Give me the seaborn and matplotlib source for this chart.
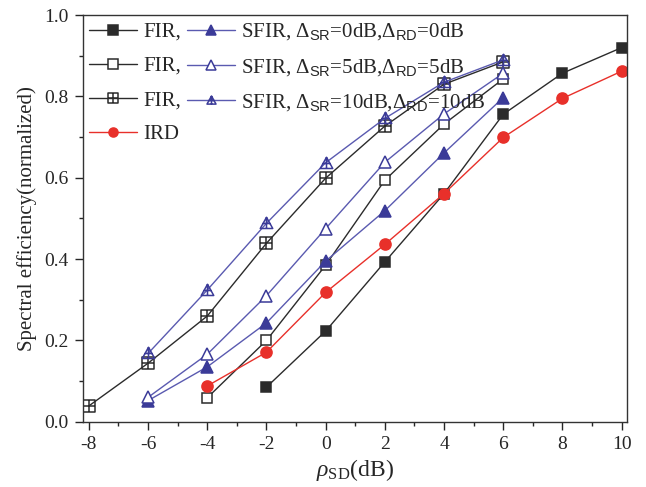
import numpy as np
import pandas as pd
import matplotlib
matplotlib.use("Agg")
import matplotlib.pyplot as plt
from matplotlib.path import Path
from matplotlib.ticker import MultipleLocator, FormatStrFormatter
import seaborn as sns

# values (rho_SD in dB -> normalized spectral efficiency)
x_fir0 = [-2, 0, 2, 4, 6, 8, 10]
y_fir0 = [0.085, 0.223, 0.393, 0.561, 0.756, 0.857, 0.920]

x_fir5 = [-4, -2, 0, 2, 4, 6]
y_fir5 = [0.059, 0.200, 0.385, 0.594, 0.732, 0.843]

x_fir10 = [-8, -6, -4, -2, 0, 2, 4, 6]
y_fir10 = [0.039, 0.144, 0.260, 0.439, 0.599, 0.727, 0.830, 0.885]

x_sfir0 = [-6, -4, -2, 0, 2, 4, 6]
y_sfir0 = [0.052, 0.135, 0.243, 0.395, 0.519, 0.661, 0.797]

x_sfir5 = [-6, -4, -2, 0, 2, 4, 6]
y_sfir5 = [0.060, 0.166, 0.310, 0.475, 0.638, 0.757, 0.857]

x_sfir10 = [-6, -4, -2, 0, 2, 4, 6]
y_sfir10 = [0.168, 0.324, 0.488, 0.637, 0.746, 0.835, 0.890]

x_ird = [-4, -2, 0, 2, 4, 6, 8, 10]
y_ird = [0.088, 0.171, 0.318, 0.436, 0.561, 0.699, 0.795, 0.862]


def square_plus():
    verts = [(-1, -1), (1, -1), (1, 1), (-1, 1), (-1, -1),
             (0, -1), (0, 1), (-1, 0), (1, 0)]
    codes = [Path.MOVETO, Path.LINETO, Path.LINETO, Path.LINETO, Path.CLOSEPOLY,
             Path.MOVETO, Path.LINETO, Path.MOVETO, Path.LINETO]
    return Path(verts, codes)


def triangle_plus():
    verts = [(-1, -0.8), (1, -0.8), (0, 1), (-1, -0.8),
             (0, -0.8), (0, 1), (-0.6, 0.0), (0.6, 0.0)]
    codes = [Path.MOVETO, Path.LINETO, Path.LINETO, Path.CLOSEPOLY,
             Path.MOVETO, Path.LINETO, Path.MOVETO, Path.LINETO]
    return Path(verts, codes)


sns.set_style("ticks")
plt.rcParams["font.family"] = ["Liberation Serif", "DejaVu Serif"]
plt.rcParams["mathtext.fontset"] = "custom"
plt.rcParams["mathtext.rm"] = "Liberation Serif"
plt.rcParams["mathtext.it"] = "Liberation Serif:italic"
plt.rcParams["mathtext.sf"] = "Liberation Sans"
plt.rcParams["axes.unicode_minus"] = False

black = "#2b2b2b"
blue = "#3b3b98"
red = "#e8302a"

fig = plt.figure(figsize=(6.46, 4.87), dpi=100)
ax = fig.add_axes([0.128, 0.134, 0.842, 0.835])

series = [
    (x_fir0, y_fir0, "FIR,", "s", black, black, 7),
    (x_fir5, y_fir5, "FIR,", "s", black, "white", 7),
    (x_fir10, y_fir10, "FIR,", square_plus(), black, "none", 8),
    (x_ird, y_ird, "IRD", "o", red, red, 8),
    (x_sfir0, y_sfir0, r"SFIR, $\Delta_{\mathsf{SR}}$=0dB,$\Delta_{\mathsf{RD}}$=0dB", "^", blue, blue, 8),
    (x_sfir5, y_sfir5, r"SFIR, $\Delta_{\mathsf{SR}}$=5dB,$\Delta_{\mathsf{RD}}$=5dB", "^", blue, "white", 8),
    (x_sfir10, y_sfir10, r"SFIR, $\Delta_{\mathsf{SR}}$=10dB,$\Delta_{\mathsf{RD}}$=10dB", triangle_plus(), blue, "none", 9),
]

for xs, ys, label, marker, col, face, ms in series:
    df = pd.DataFrame({"x": xs, "y": ys})
    line_col = "#5a5ab0" if col == blue else col
    sns.lineplot(data=df, x="x", y="y", ax=ax, color=line_col, lw=1.0,
                 marker=marker, markersize=ms, markerfacecolor=face,
                 markeredgecolor=col, markeredgewidth=1.1, label=label)

ax.set_xlim(-8.21, 10.17)
ax.set_ylim(0, 1.0)
ax.xaxis.set_major_locator(MultipleLocator(2))
ax.xaxis.set_minor_locator(MultipleLocator(1))
ax.yaxis.set_major_locator(MultipleLocator(0.2))
ax.yaxis.set_minor_locator(MultipleLocator(0.1))
ax.yaxis.set_major_formatter(FormatStrFormatter("%.1f"))
ax.tick_params(which="major", direction="out", length=6, width=1, labelsize=14, pad=4)
ax.tick_params(which="minor", direction="out", length=3, width=1)
for sp in ax.spines.values():
    sp.set_linewidth(1.0)
    sp.set_color("#333333")

ax.set_xlabel(r"$\rho_{\mathrm{SD}}$(dB)", fontsize=17, labelpad=3)
ax.set_ylabel("Spectral efficiency(normalized)", fontsize=15, labelpad=5)

leg = ax.legend(loc="upper left", ncol=2, frameon=False, fontsize=15,
                handlelength=2.3, handletextpad=0.3, columnspacing=0.3,
                labelspacing=0.7, borderaxespad=0.1, borderpad=0.2)
for h in leg.legend_handles:
    h.set_markersize(6.5)

fig.savefig("out.png", dpi=100)
